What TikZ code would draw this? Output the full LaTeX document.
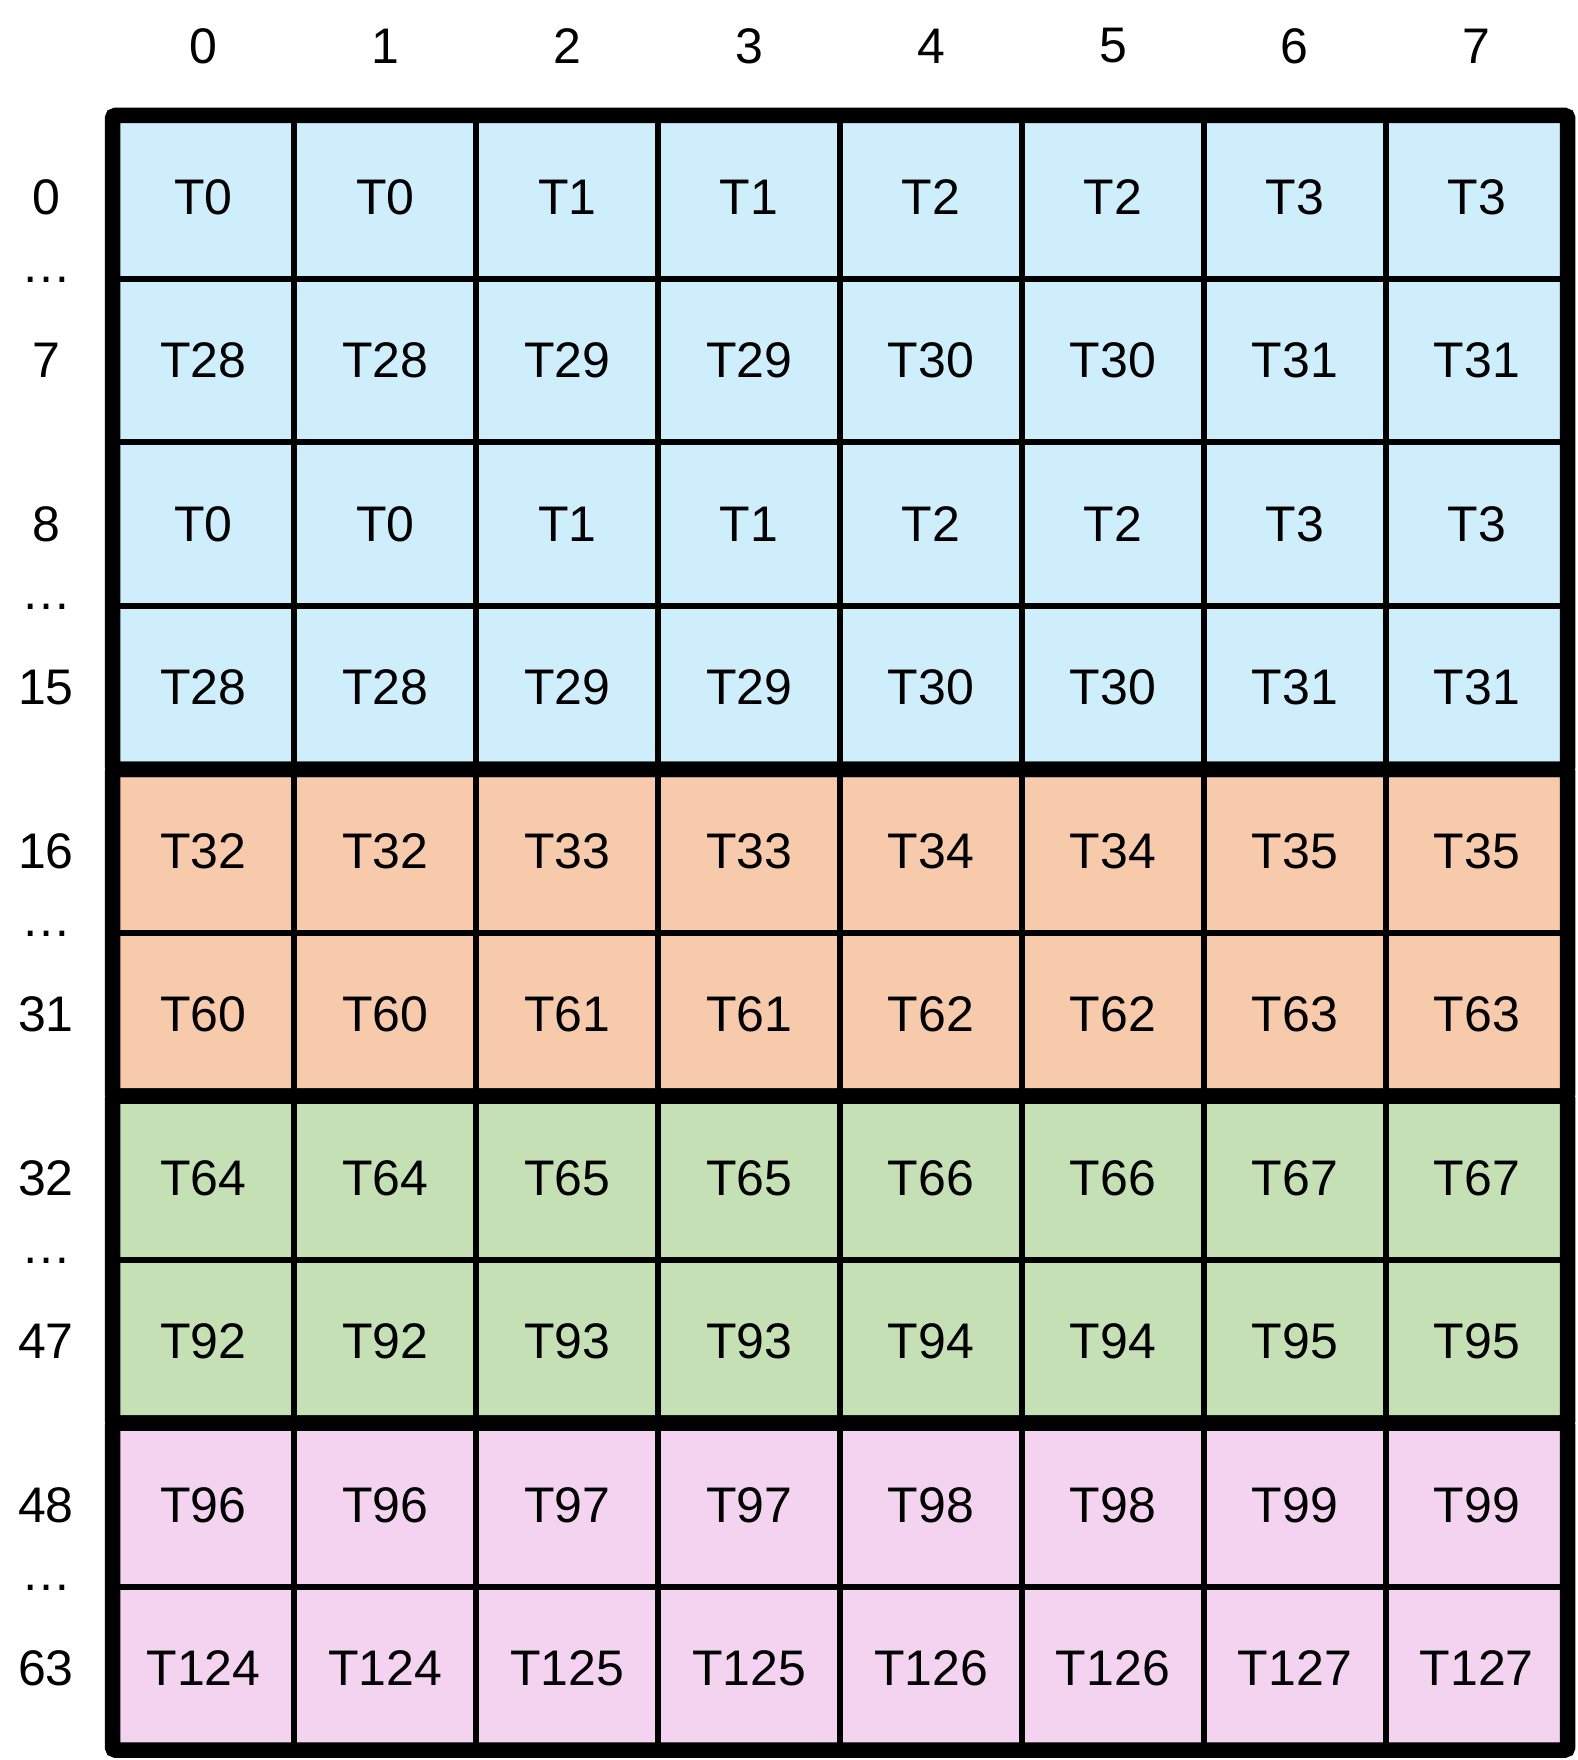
\documentclass[tikz,border=0pt]{standalone}
\usepackage{fontspec}
\setmainfont{Liberation Sans}
\definecolor{cblue}{HTML}{CDEEFA}
\definecolor{corange}{HTML}{F7CAAC}
\definecolor{cgreen}{HTML}{C5E0B4}
\definecolor{cpink}{HTML}{F3D3F0}
\begin{document}
\begin{tikzpicture}[x=0.5pt,y=-0.5pt,
  cell/.style={draw=black, line width=3pt, minimum width=90.95pt, minimum height=81.725pt,
    inner sep=0pt, outer sep=0pt, font=\fontsize{25}{29}\selectfont},
  lbl/.style={font=\fontsize{25}{29}\selectfont, inner sep=0pt},
  blockframe/.style={draw=black, line width=7.75pt, rounded corners=1.5pt}]
\useasboundingbox (0,0) rectangle (1578,1760);
% column headers
\foreach \c in {0,...,7}
  \node[lbl] (cl-\c) at ({112.5+181.9*(\c+0.5)},46) {\c};
% cells and row labels
\foreach \r/\blk/\col/\lab in {0/0/cblue/0,1/0/cblue/7,2/0/cblue/8,3/0/cblue/15,
  4/1/corange/16,5/1/corange/31,6/2/cgreen/32,7/2/cgreen/47,8/3/cpink/48,9/3/cpink/63}{
  \node[lbl] (rl-\r) at (46,{115.5+163.45*(\r+0.5)}) {\lab};
  \foreach \c in {0,...,7}{
    \pgfmathtruncatemacro\num{32*\blk + 28*mod(\r,2) + int(\c/2)}
    \node[cell, fill=\col] (cell-\r-\c) at ({112.5+181.9*(\c+0.5)},{115.5+163.45*(\r+0.5)}) {T\num};
  }
}
% ellipses between row labels
\foreach \r in {1,3,5,7,9}
  \node[lbl, anchor=base] (dots-\r) at (46,{115.5+163.45*\r+4}) {…};
% thick block frames
\draw[blockframe] (cell-0-0.north west) rectangle (cell-3-7.south east);
\draw[blockframe] (cell-4-0.north west) rectangle (cell-5-7.south east);
\draw[blockframe] (cell-6-0.north west) rectangle (cell-7-7.south east);
\draw[blockframe] (cell-8-0.north west) rectangle (cell-9-7.south east);
\end{tikzpicture}
\end{document}
